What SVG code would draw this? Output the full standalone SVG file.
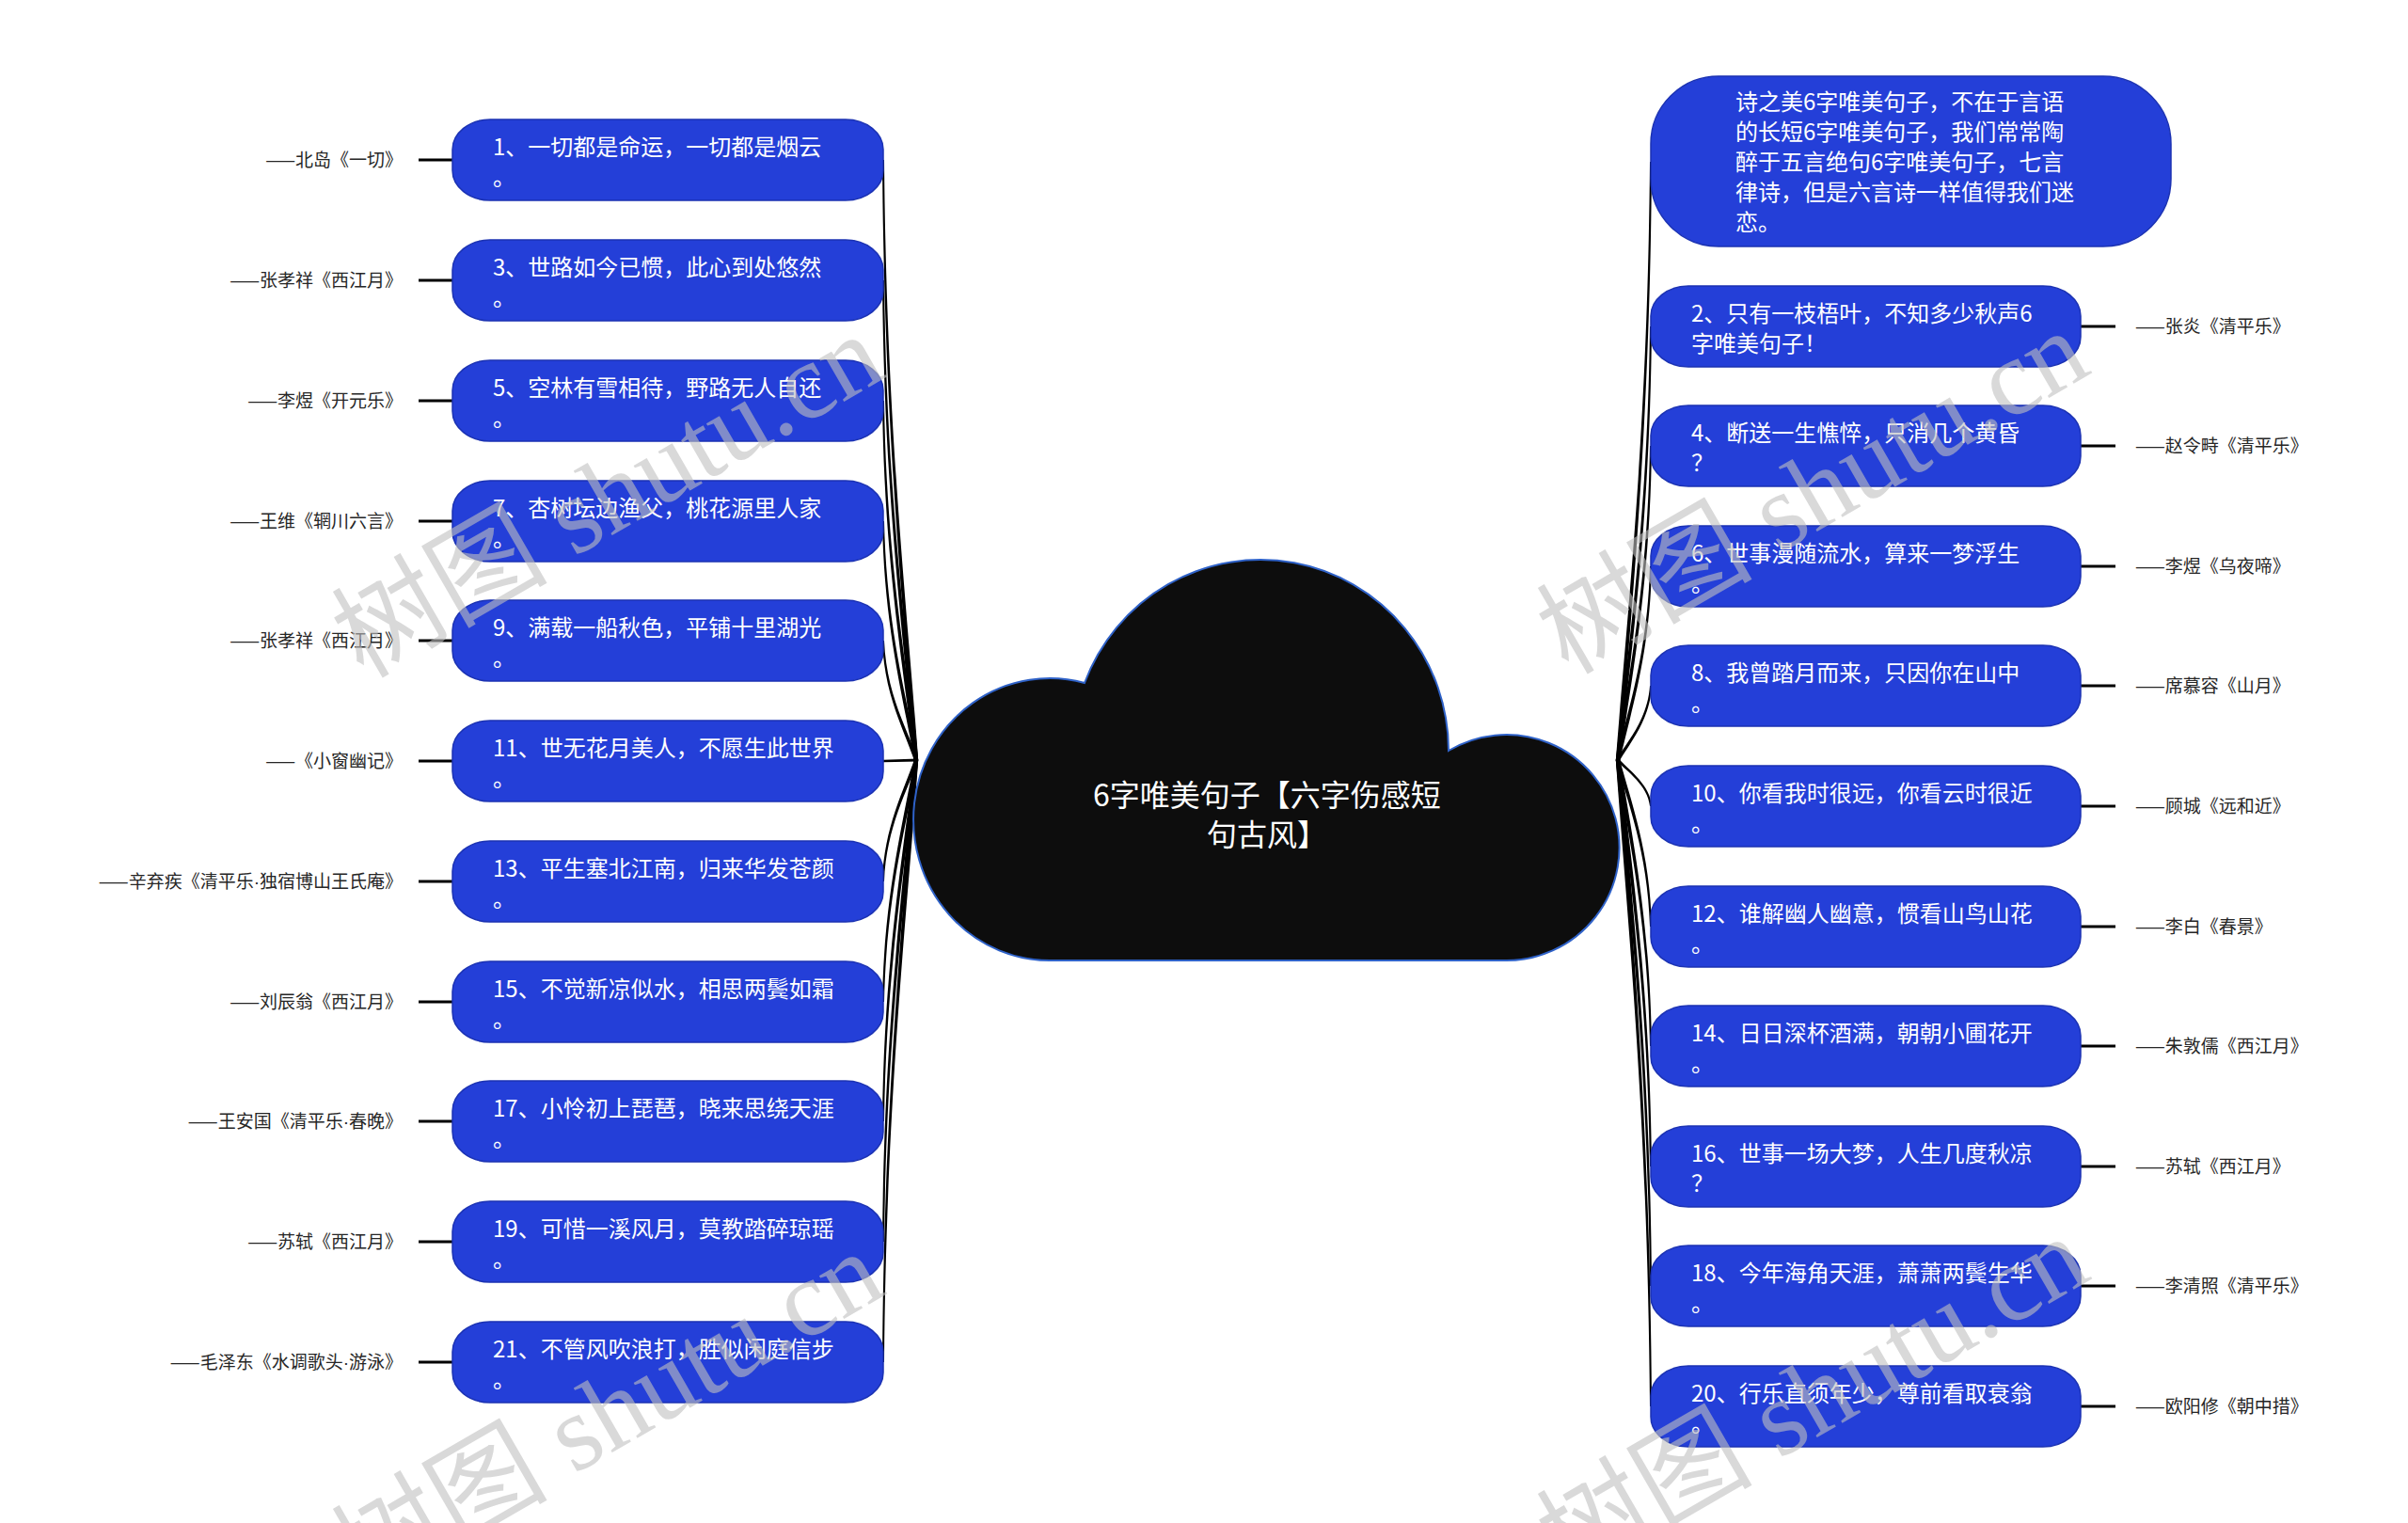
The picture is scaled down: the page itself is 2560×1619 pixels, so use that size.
<svg xmlns="http://www.w3.org/2000/svg" width="2560" height="1619" viewBox="0 0 2560 1619">
<defs>
<style>
.node rect{fill:#243fd8;stroke:#1b32b3;stroke-width:1.5}
.nt{font-family:"Noto Sans CJK SC","Noto Sans",sans-serif;font-size:24px;fill:#ffffff}
.ct{font-family:"Noto Sans CJK SC","Noto Sans",sans-serif;font-size:32px;fill:#ffffff;text-anchor:middle}
.lb{font-family:"Noto Sans CJK SC","Noto Sans",sans-serif;font-size:19px;fill:#262626}
.lbl{text-anchor:end}
.dot{font-family:"Liberation Sans",sans-serif}
.stub{stroke:#000000;stroke-width:3}
.conn path{fill:#000000}
.wm{font-family:"Liberation Serif","Noto Sans CJK SC",serif;font-size:115px;fill:#c0c0c0;opacity:0.6}
</style>
</defs>
<rect width="2560" height="1619" fill="#ffffff"/>

<g id="connectors" class="conn">
<path d="M971.8,808 C961.2,648.5 939.7,457 938,170 L940,170 C942.3,457 964.8,648.5 976.2,808Z"/>
<path d="M971.8,808 C961.2,680.5 939.7,527.5 938,298 L940,298 C942.3,527.5 964.8,680.5 976.2,808Z"/>
<path d="M971.8,808 C961.2,712.5 939.7,598 938,426 L940,426 C942.3,598 964.8,712.5 976.2,808Z"/>
<path d="M971.8,808 C961.2,744.5 939.7,668 938,554 L940,554 C942.3,668 964.8,744.5 976.2,808Z"/>
<path d="M971.8,808 C961.2,776 939.7,738 938,681 L940,681 C942.3,738 964.8,776 976.2,808Z"/>
<path d="M976,806.5 L939,807.7 L939,810.3 L976,809.5Z"/>
<path d="M971.8,808 C961.2,840 939.7,879 938,937 L940,937 C942.3,879 964.8,840 976.2,808Z"/>
<path d="M971.8,808 C961.2,872 939.7,949 938,1065 L940,1065 C942.3,949 964.8,872 976.2,808Z"/>
<path d="M971.8,808 C961.2,904 939.7,1019 938,1192 L940,1192 C942.3,1019 964.8,904 976.2,808Z"/>
<path d="M971.8,808 C961.2,936 939.7,1090 938,1320 L940,1320 C942.3,1090 964.8,936 976.2,808Z"/>
<path d="M971.8,808 C961.2,968 939.7,1160 938,1448 L940,1448 C942.3,1160 964.8,968 976.2,808Z"/>

<path d="M1717.8,808 C1730.2,649 1751.7,458 1754,172 L1756,172 C1754.3,458 1733.8,649 1722.2,808Z"/>
<path d="M1717.8,808 C1730.2,692.75 1751.7,554.5 1754,347 L1756,347 C1754.3,554.5 1733.8,692.75 1722.2,808Z"/>
<path d="M1717.8,808 C1730.2,724.5 1751.7,624.3 1754,474 L1756,474 C1754.3,624.3 1733.8,724.5 1722.2,808Z"/>
<path d="M1717.8,808 C1730.2,756.5 1751.7,694.7 1754,602 L1756,602 C1754.3,694.7 1733.8,756.5 1722.2,808Z"/>
<path d="M1717.8,808 C1730.2,788.25 1751.7,764.5 1754,729 L1756,729 C1754.3,764.5 1733.8,788.25 1722.2,808Z"/>
<path d="M1717.8,808 C1730.2,820.25 1751.7,835 1754,857 L1756,857 C1754.3,835 1733.8,820.25 1722.2,808Z"/>
<path d="M1717.8,808 C1730.2,852.25 1751.7,905.35 1754,985 L1756,985 C1754.3,905.35 1733.8,852.25 1722.2,808Z"/>
<path d="M1717.8,808 C1730.2,884 1751.7,975.2 1754,1112 L1756,1112 C1754.3,975.2 1733.8,884 1722.2,808Z"/>
<path d="M1717.8,808 C1730.2,916 1751.7,1045.6 1754,1240 L1756,1240 C1754.3,1045.6 1733.8,916 1722.2,808Z"/>
<path d="M1717.8,808 C1730.2,947.75 1751.7,1115.45 1754,1367 L1756,1367 C1754.3,1115.45 1733.8,947.75 1722.2,808Z"/>
<path d="M1717.8,808 C1730.2,979.75 1751.7,1185.85 1754,1495 L1756,1495 C1754.3,1185.85 1733.8,979.75 1722.2,808Z"/>

<line class="stub" x1="445" y1="170" x2="481" y2="170"/>
<line class="stub" x1="445" y1="298" x2="481" y2="298"/>
<line class="stub" x1="445" y1="426" x2="481" y2="426"/>
<line class="stub" x1="445" y1="554" x2="481" y2="554"/>
<line class="stub" x1="445" y1="681" x2="481" y2="681"/>
<line class="stub" x1="445" y1="809" x2="481" y2="809"/>
<line class="stub" x1="445" y1="937" x2="481" y2="937"/>
<line class="stub" x1="445" y1="1065" x2="481" y2="1065"/>
<line class="stub" x1="445" y1="1192" x2="481" y2="1192"/>
<line class="stub" x1="445" y1="1320" x2="481" y2="1320"/>
<line class="stub" x1="445" y1="1448" x2="481" y2="1448"/>

<line class="stub" x1="2212" y1="347" x2="2249" y2="347"/>
<line class="stub" x1="2212" y1="474" x2="2249" y2="474"/>
<line class="stub" x1="2212" y1="602" x2="2249" y2="602"/>
<line class="stub" x1="2212" y1="729" x2="2249" y2="729"/>
<line class="stub" x1="2212" y1="857" x2="2249" y2="857"/>
<line class="stub" x1="2212" y1="985" x2="2249" y2="985"/>
<line class="stub" x1="2212" y1="1112" x2="2249" y2="1112"/>
<line class="stub" x1="2212" y1="1240" x2="2249" y2="1240"/>
<line class="stub" x1="2212" y1="1367" x2="2249" y2="1367"/>
<line class="stub" x1="2212" y1="1495" x2="2249" y2="1495"/>
</g>

<g id="root">
<path d="M1120,1021 A145 150 0 1 1 1153,726 A200 203 0 0 1 1540,798 A120 120 0 1 1 1600,1021 Z" fill="#0d0d0d" stroke="#2f62c8" stroke-width="2"/>
<text class="ct" x="1347" y="857">6字唯美句子【六字伤感短</text>
<text class="ct" x="1347" y="899">句古风】</text>
</g>

<g id="n1" class="node"><rect x="481" y="127" width="458" height="86" rx="40" ry="32"/><text class="nt" x="524" y="165">1、一切都是命运，一切都是烟云</text><text class="nt" x="524" y="197">。</text></g>
<g id="n3" class="node"><rect x="481" y="255" width="458" height="86" rx="40" ry="32"/><text class="nt" x="524" y="293">3、世路如今已惯，此心到处悠然</text><text class="nt" x="524" y="325">。</text></g>
<g id="n5" class="node"><rect x="481" y="383" width="458" height="86" rx="40" ry="32"/><text class="nt" x="524" y="421">5、空林有雪相待，野路无人自还</text><text class="nt" x="524" y="453">。</text></g>
<g id="n7" class="node"><rect x="481" y="511" width="458" height="86" rx="40" ry="32"/><text class="nt" x="524" y="549">7、杏树坛边渔父，桃花源里人家</text><text class="nt" x="524" y="581">。</text></g>
<g id="n9" class="node"><rect x="481" y="638" width="458" height="86" rx="40" ry="32"/><text class="nt" x="524" y="676">9、满载一船秋色，平铺十里湖光</text><text class="nt" x="524" y="708">。</text></g>
<g id="n11" class="node"><rect x="481" y="766" width="458" height="86" rx="40" ry="32"/><text class="nt" x="524" y="804">11、世无花月美人，不愿生此世界</text><text class="nt" x="524" y="836">。</text></g>
<g id="n13" class="node"><rect x="481" y="894" width="458" height="86" rx="40" ry="32"/><text class="nt" x="524" y="932">13、平生塞北江南，归来华发苍颜</text><text class="nt" x="524" y="964">。</text></g>
<g id="n15" class="node"><rect x="481" y="1022" width="458" height="86" rx="40" ry="32"/><text class="nt" x="524" y="1060">15、不觉新凉似水，相思两鬓如霜</text><text class="nt" x="524" y="1092">。</text></g>
<g id="n17" class="node"><rect x="481" y="1149" width="458" height="86" rx="40" ry="32"/><text class="nt" x="524" y="1187">17、小怜初上琵琶，晓来思绕天涯</text><text class="nt" x="524" y="1219">。</text></g>
<g id="n19" class="node"><rect x="481" y="1277" width="458" height="86" rx="40" ry="32"/><text class="nt" x="524" y="1315">19、可惜一溪风月，莫教踏碎琼瑶</text><text class="nt" x="524" y="1347">。</text></g>
<g id="n21" class="node"><rect x="481" y="1405" width="458" height="86" rx="40" ry="32"/><text class="nt" x="524" y="1443">21、不管风吹浪打，胜似闲庭信步</text><text class="nt" x="524" y="1475">。</text></g>

<g id="intro" class="node"><rect x="1755" y="81" width="553" height="181" rx="72" ry="72"/>
<text class="nt" x="1845" y="117">诗之美6字唯美句子，不在于言语</text>
<text class="nt" x="1845" y="149">的长短6字唯美句子，我们常常陶</text>
<text class="nt" x="1845" y="181">醉于五言绝句6字唯美句子，七言</text>
<text class="nt" x="1845" y="213">律诗，但是六言诗一样值得我们迷</text>
<text class="nt" x="1845" y="245">恋。</text></g>

<g id="n2" class="node"><rect x="1755" y="304" width="457" height="86" rx="40" ry="32"/><text class="nt" x="1798" y="342">2、只有一枝梧叶，不知多少秋声6</text><text class="nt" x="1798" y="374">字唯美句子！</text></g>
<g id="n4" class="node"><rect x="1755" y="431" width="457" height="86" rx="40" ry="32"/><text class="nt" x="1798" y="469">4、断送一生憔悴，只消几个黄昏</text><text class="nt" x="1798" y="501">？</text></g>
<g id="n6" class="node"><rect x="1755" y="559" width="457" height="86" rx="40" ry="32"/><text class="nt" x="1798" y="597">6、世事漫随流水，算来一梦浮生</text><text class="nt" x="1798" y="629">。</text></g>
<g id="n8" class="node"><rect x="1755" y="686" width="457" height="86" rx="40" ry="32"/><text class="nt" x="1798" y="724">8、我曾踏月而来，只因你在山中</text><text class="nt" x="1798" y="756">。</text></g>
<g id="n10" class="node"><rect x="1755" y="814" width="457" height="86" rx="40" ry="32"/><text class="nt" x="1798" y="852">10、你看我时很远，你看云时很近</text><text class="nt" x="1798" y="884">。</text></g>
<g id="n12" class="node"><rect x="1755" y="942" width="457" height="86" rx="40" ry="32"/><text class="nt" x="1798" y="980">12、谁解幽人幽意，惯看山鸟山花</text><text class="nt" x="1798" y="1012">。</text></g>
<g id="n14" class="node"><rect x="1755" y="1069" width="457" height="86" rx="40" ry="32"/><text class="nt" x="1798" y="1107">14、日日深杯酒满，朝朝小圃花开</text><text class="nt" x="1798" y="1139">。</text></g>
<g id="n16" class="node"><rect x="1755" y="1197" width="457" height="86" rx="40" ry="32"/><text class="nt" x="1798" y="1235">16、世事一场大梦，人生几度秋凉</text><text class="nt" x="1798" y="1267">？</text></g>
<g id="n18" class="node"><rect x="1755" y="1324" width="457" height="86" rx="40" ry="32"/><text class="nt" x="1798" y="1362">18、今年海角天涯，萧萧两鬓生华</text><text class="nt" x="1798" y="1394">。</text></g>
<g id="n20" class="node"><rect x="1755" y="1452" width="457" height="86" rx="40" ry="32"/><text class="nt" x="1798" y="1490">20、行乐直须年少，尊前看取衰翁</text><text class="nt" x="1798" y="1522">。</text></g>

<g id="labels-left">
<text class="lb lbl" x="428" y="177">——北岛《一切》</text>
<text class="lb lbl" x="428" y="305">——张孝祥《西江月》</text>
<text class="lb lbl" x="428" y="433">——李煜《开元乐》</text>
<text class="lb lbl" x="428" y="561">——王维《辋川六言》</text>
<text class="lb lbl" x="428" y="688">——张孝祥《西江月》</text>
<text class="lb lbl" x="428" y="816">——《小窗幽记》</text>
<text class="lb lbl" x="428" y="944">——辛弃疾《清平乐<tspan class="dot">·</tspan>独宿博山王氏庵》</text>
<text class="lb lbl" x="428" y="1072">——刘辰翁《西江月》</text>
<text class="lb lbl" x="428" y="1199">——王安国《清平乐<tspan class="dot">·</tspan>春晚》</text>
<text class="lb lbl" x="428" y="1327">——苏轼《西江月》</text>
<text class="lb lbl" x="428" y="1455">——毛泽东《水调歌头<tspan class="dot">·</tspan>游泳》</text>
</g>
<g id="labels-right">
<text class="lb" x="2270" y="354">——张炎《清平乐》</text>
<text class="lb" x="2270" y="481">——赵令畤《清平乐》</text>
<text class="lb" x="2270" y="609">——李煜《乌夜啼》</text>
<text class="lb" x="2270" y="736">——席慕容《山月》</text>
<text class="lb" x="2270" y="864">——顾城《远和近》</text>
<text class="lb" x="2270" y="992">——李白《春景》</text>
<text class="lb" x="2270" y="1119">——朱敦儒《西江月》</text>
<text class="lb" x="2270" y="1247">——苏轼《西江月》</text>
<text class="lb" x="2270" y="1374">——李清照《清平乐》</text>
<text class="lb" x="2270" y="1502">——欧阳修《朝中措》</text>
</g>

<g id="watermarks">
<text class="wm" x="386" y="722" transform="rotate(-30 386 722)">树图 shutu.cn</text>
<text class="wm" x="1667" y="718" transform="rotate(-30 1667 718)">树图 shutu.cn</text>
<text class="wm" x="386" y="1697" transform="rotate(-30 386 1697)">树图 shutu.cn</text>
<text class="wm" x="1667" y="1681" transform="rotate(-30 1667 1681)">树图 shutu.cn</text>
</g>
</svg>
